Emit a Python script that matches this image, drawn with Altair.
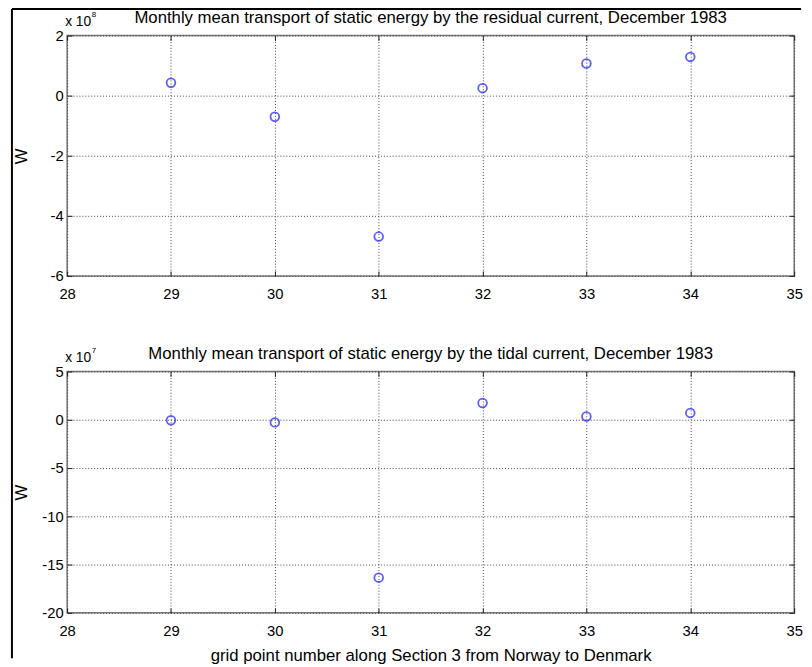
import altair as alt
import pandas as pd

grid_points = [29, 30, 31, 32, 33, 34]
residual = [0.43, -0.70, -4.69, 0.25, 1.07, 1.29]    # x 10^8 W
tidal = [-0.05, -0.27, -16.35, 1.73, 0.34, 0.71]     # x 10^7 W
x_ticks = [28, 29, 30, 31, 32, 33, 34, 35]
top_yticks = [-6, -4, -2, 0, 2]
bot_yticks = [-20, -15, -10, -5, 0, 5]
top_title = "Monthly mean transport of static energy by the residual current, December 1983"
bot_title = "Monthly mean transport of static energy by the tidal current, December 1983"
x_title = "grid point number along Section 3 from Norway to Denmark"
y_title = "W"

FONT = "Liberation Sans"
W = 738
MINUS_FIX = "replace(datum.label, '\u2212', '-')"


def panel(values, title, exponent, yticks, height, xtitle, frame=False):
    df = pd.DataFrame({"x": grid_points, "y": values})
    xs = alt.Scale(domain=[x_ticks[0], x_ticks[-1]], nice=False, zero=False)
    ys = alt.Scale(domain=[yticks[0], yticks[-1]], nice=False, zero=False)
    grid_style = dict(grid=True, gridColor="#444", gridDash=[1, 2], gridWidth=1)
    xaxis = dict(values=x_ticks, orient="bottom", offset=-5, tickSize=5, tickColor="#222",
                 labelPadding=11, domain=False, format="d", labelFlush=False,
                 labelExpr=MINUS_FIX, titlePadding=9, **grid_style)
    xaxis["title"] = xtitle if xtitle else None
    pts = alt.Chart(df).mark_point(filled=False, color="#1a1aff", size=78, strokeWidth=1.8).encode(
        x=alt.X("x:Q", scale=xs, axis=alt.Axis(**xaxis)),
        y=alt.Y("y:Q", scale=ys, axis=alt.Axis(
            values=yticks, orient="left", offset=-5, tickSize=5, tickColor="#222",
            labelPadding=4, domain=False, format="d", labelFlush=False,
            labelExpr=MINUS_FIX,
            title=y_title, titleX=-51, titleY=height / 2, titleAngle=-90,
            titleAlign="center", titleBaseline="middle", **grid_style)),
    )
    ticks2 = alt.Chart(df).mark_point(opacity=0).encode(
        x=alt.X("x:Q", scale=xs, axis=alt.Axis(
            values=x_ticks, orient="top", offset=-5, tickSize=5, tickColor="#222",
            labels=False, domain=False, grid=False, title=None)),
        y=alt.Y("y:Q", scale=ys, axis=alt.Axis(
            values=yticks, orient="right", offset=-5, tickSize=5, tickColor="#222",
            labels=False, domain=False, grid=False, title=None)),
    )
    lab = pd.DataFrame({"t": ["x 10"], "e": [exponent], "title": [title]})
    txt = alt.Chart(lab).mark_text(align="left", baseline="alphabetic", fontSize=14, font=FONT,
                                   color="black").encode(
        text="t:N", x=alt.value(-2), y=alt.value(-10))
    sup = alt.Chart(lab).mark_text(align="left", baseline="alphabetic", fontSize=8, font=FONT,
                                   color="black").encode(
        text="e:N", x=alt.value(25), y=alt.value(-19))
    ttl = alt.Chart(lab).mark_text(align="center", baseline="alphabetic", fontSize=17, font=FONT,
                                   color="black").encode(
        text="title:N", x=alt.value(W / 2), y=alt.value(-13))
    layers = [pts, ticks2, txt, sup, ttl]
    if frame:
        fr = pd.DataFrame({"k": ["frame"]})
        top_line = alt.Chart(fr).mark_rule(color="black", strokeWidth=2).encode(
            x=alt.value(-56), x2=alt.value(745), y=alt.value(-27))
        left_line = alt.Chart(fr).mark_rule(color="black", strokeWidth=2).encode(
            x=alt.value(-56), y=alt.value(-27), y2=alt.value(632))
        layers += [top_line, left_line]
    return alt.layer(*layers).resolve_axis(x="independent", y="independent").properties(
        width=W, height=height)


top = panel(residual, top_title, "8", top_yticks, 244, None, frame=True)
bot = panel(tidal, bot_title, "7", bot_yticks, 245, x_title)

chart = alt.vconcat(top, bot, spacing=97, bounds="flush").properties(
    padding={"left": 2, "top": -6, "right": 0, "bottom": 0},
    background="white",
).configure_view(stroke="#777", strokeWidth=1.5).configure_axis(
    labelFont=FONT, labelFontSize=15, labelColor="black",
    titleFont=FONT, titleFontSize=17, titleColor="black", titleFontWeight="normal"
)

chart.save("out.html", embed_options={"renderer": "svg", "actions": False})
